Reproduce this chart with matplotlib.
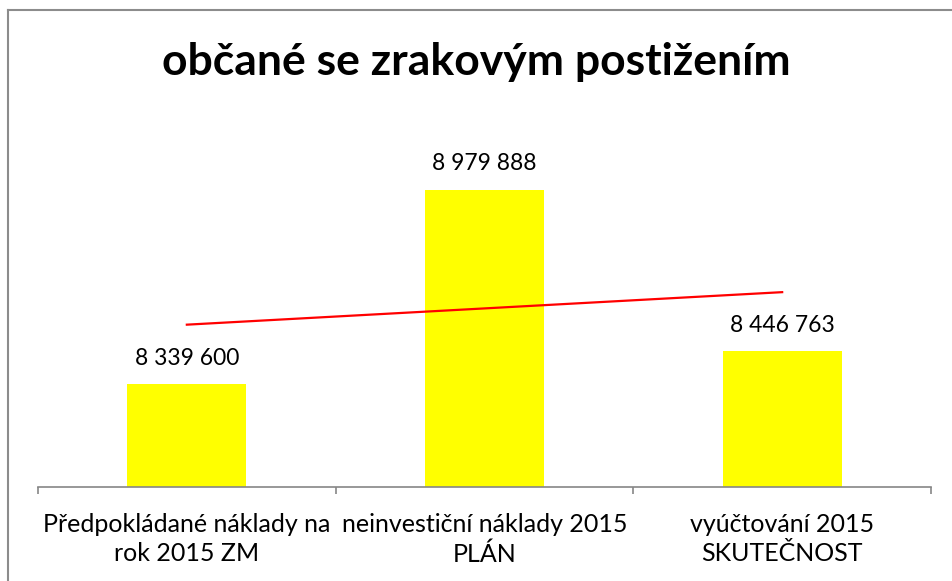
import numpy as np
import matplotlib.pyplot as plt
from matplotlib.lines import Line2D

plt.rcParams['font.family'] = ['Lato', 'DejaVu Sans']

TITLE = 'občané se zrakovým postižením'
CATEGORIES = ['Předpokládané náklady na\nrok 2015 ZM',
              'neinvestiční náklady 2015\nPLÁN',
              'vyúčtování 2015\nSKUTEČNOST']
VALUES = [8339600, 8979888, 8446763]
LABELS = ['8 339 600', '8 979 888', '8 446 763']

Y_MIN, Y_MAX = 8000000, 9200000


def main():
    fig = plt.figure(figsize=(9.53, 5.81), dpi=100)
    ax = fig.add_axes([38/953, 1 - 487/581, 893/953, (487 - 123)/581])

    x = np.arange(len(VALUES))
    ax.bar(x, VALUES, width=0.4, color='#FFFF00', zorder=2)

    # linear trendline (like Excel)
    k, q = np.polyfit(x, VALUES, 1)
    ax.plot(x[[0, -1]], k * x[[0, -1]] + q, color='#FF0000', lw=1.6, zorder=3)

    for xi, v, lab in zip(x, VALUES, LABELS):
        ax.annotate(lab, (xi, v), xytext=(0, 11), textcoords='offset points',
                    ha='center', va='bottom', fontsize=16.5, color='black')

    ax.set_xlim(-0.5, len(VALUES) - 0.5)
    ax.set_ylim(Y_MIN, Y_MAX)
    ax.set_yticks([])
    for s in ('top', 'right', 'left'):
        ax.spines[s].set_visible(False)
    ax.spines['bottom'].set_color('#868686')
    ax.spines['bottom'].set_linewidth(1.2)

    ax.set_xticks(np.arange(len(VALUES) + 1) - 0.5)
    ax.set_xticklabels([])
    ax.tick_params(axis='x', which='major', direction='out', length=5,
                   color='#868686', width=1.2)
    ax.set_xticks(x, minor=True)
    ax.set_xticklabels(CATEGORIES, minor=True, fontsize=18, linespacing=1.32)
    ax.tick_params(axis='x', which='minor', length=0, pad=19)

    fig.text(0.5, 1 - 62/581, TITLE, ha='center', va='center',
             fontsize=32, fontweight='bold')

    # chart frame (only top/left visible in the crop)
    fig.add_artist(Line2D([8/953, 1], [1 - 10/581] * 2, color='#8C8C8C', lw=1.5))
    fig.add_artist(Line2D([8/953] * 2, [0, 1 - 10/581], color='#8C8C8C', lw=1.5))

    fig.savefig('out.png', dpi=100)
    plt.close(fig)


if __name__ == '__main__':
    main()
